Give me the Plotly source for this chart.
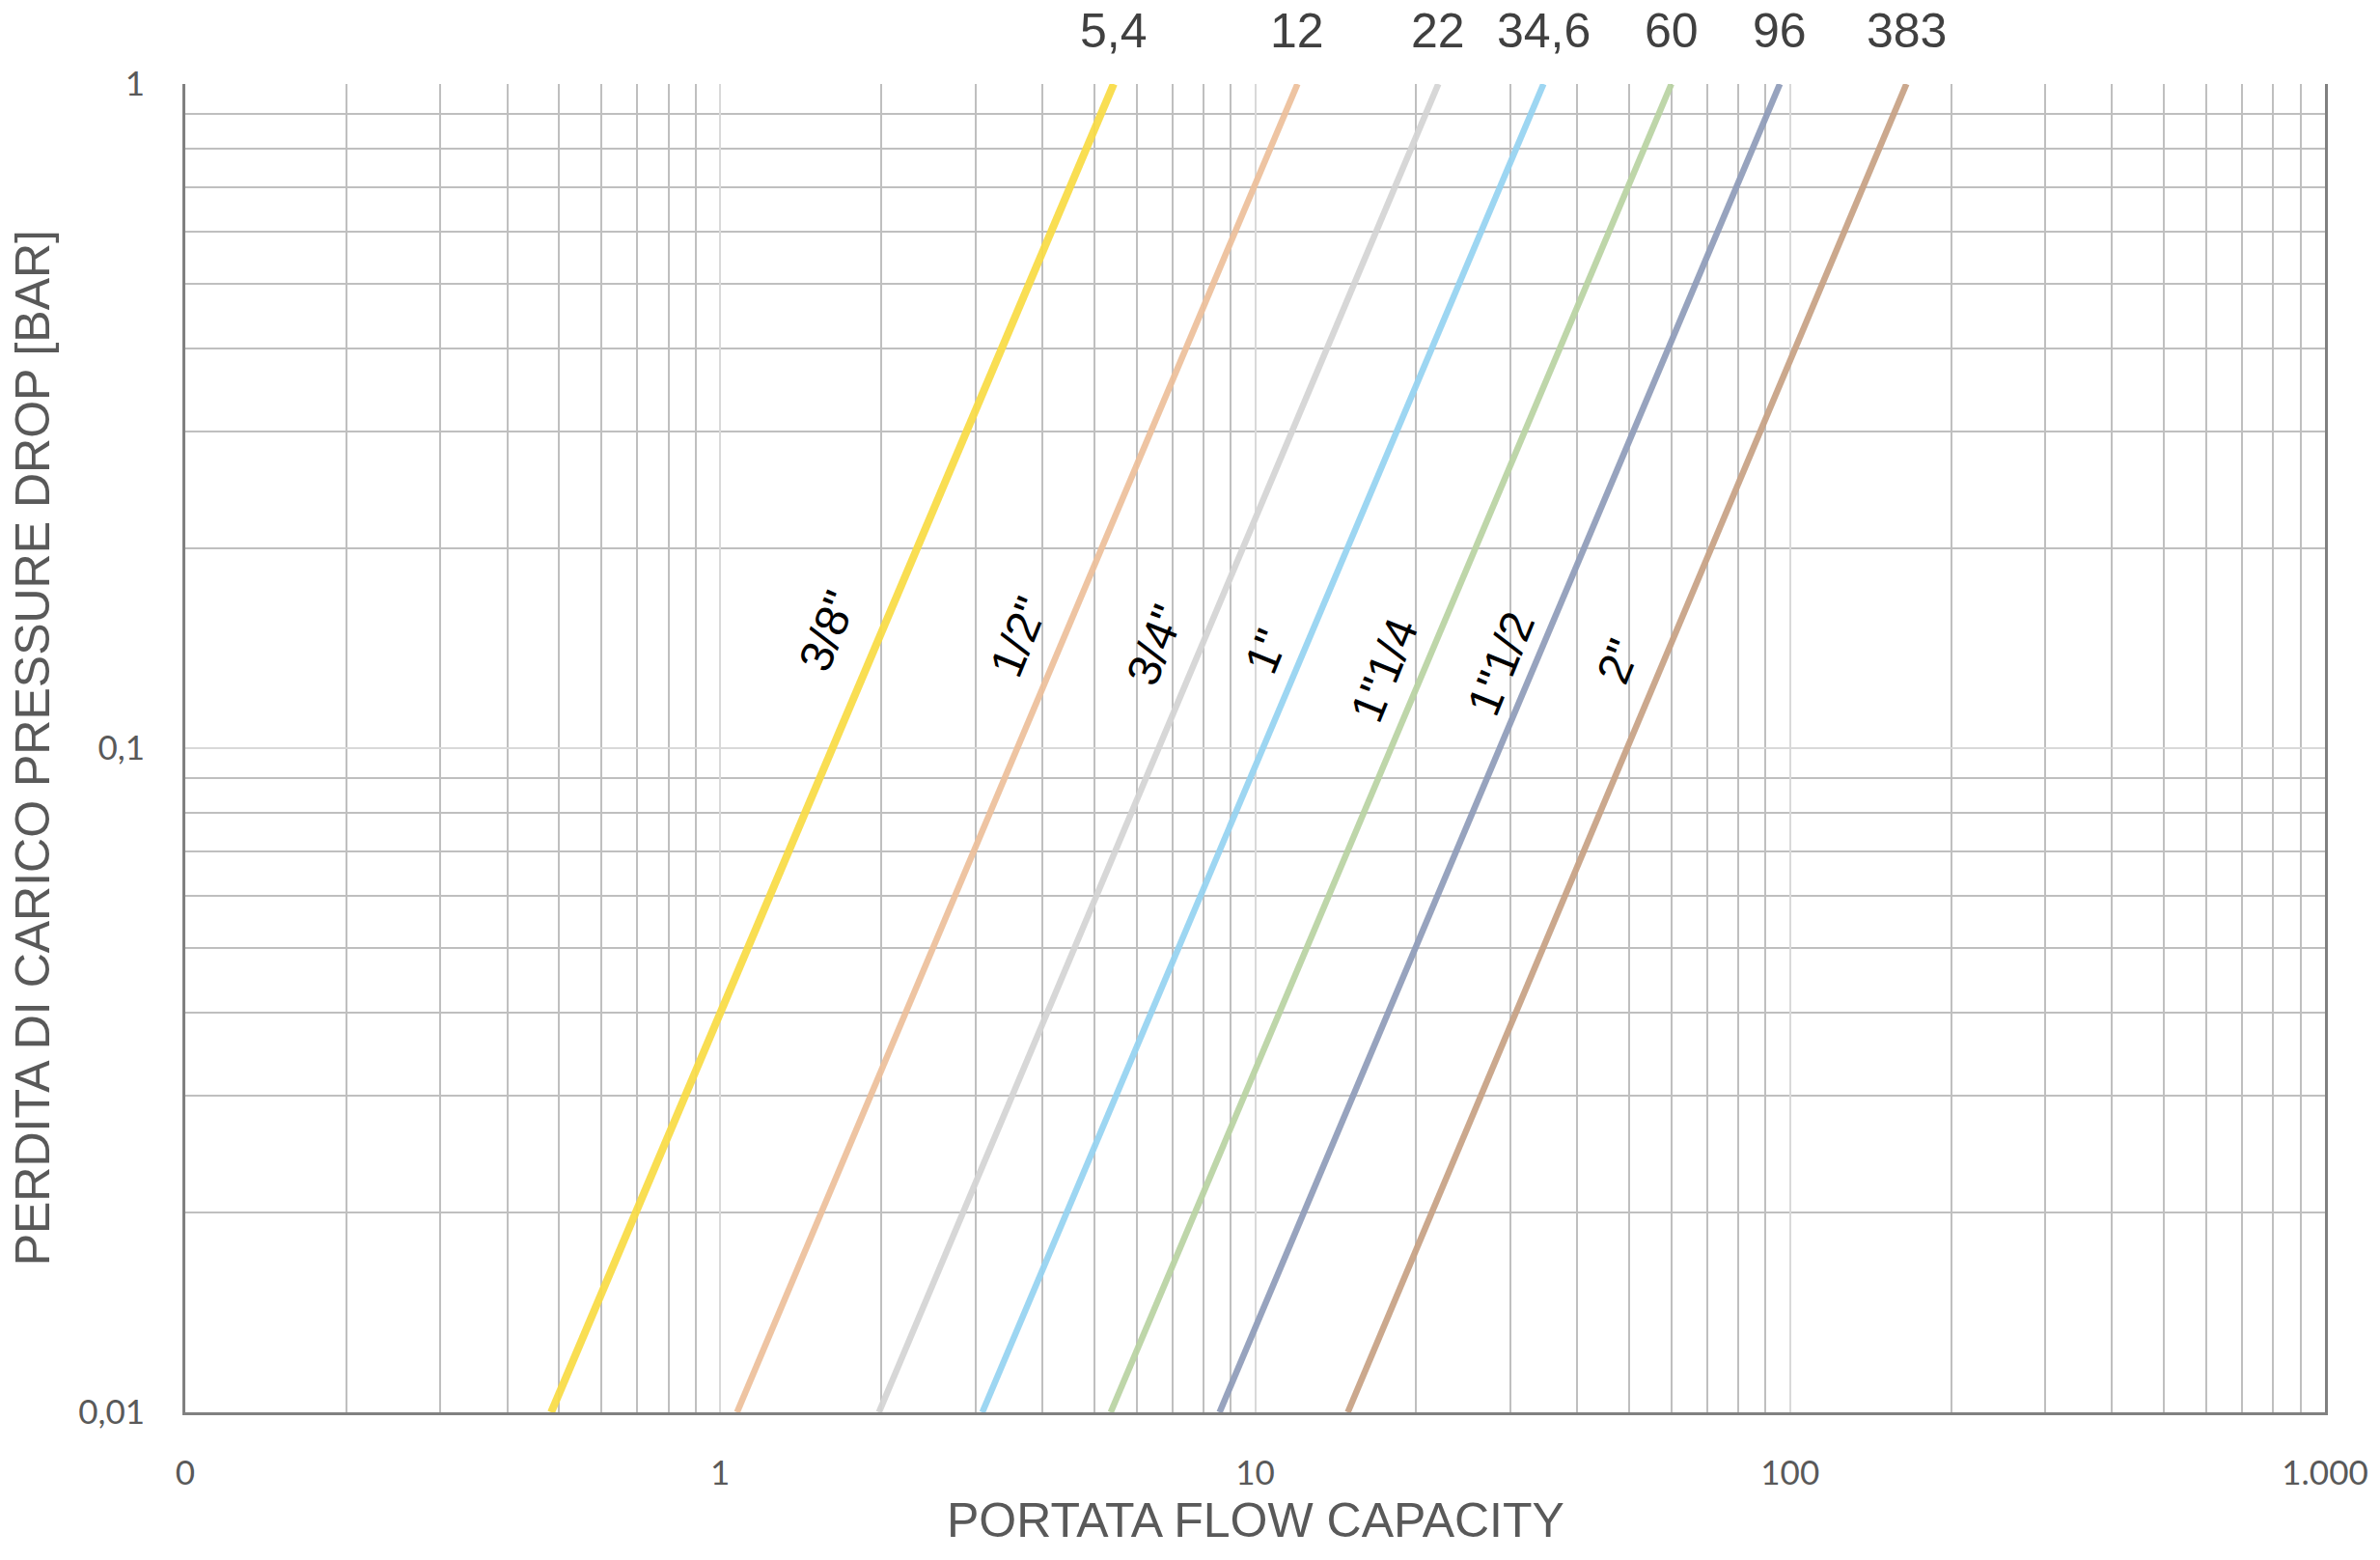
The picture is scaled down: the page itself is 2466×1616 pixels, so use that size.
import math
import plotly.graph_objects as go

# ---- data ----
sizes = ['3/8"', '1/2"', '3/4"', '1"', '1"1/4', '1"1/2', '2"']
kv_labels = ["5,4", "12", "22", "34,6", "60", "96", "383"]
dp_ends = [0.01, 1.0]                                   # pressure drop [bar]
q_at_low = [0.483, 1.075, 1.98, 3.09, 5.37, 8.58, 14.9]  # flow at 0.01 bar
q_at_high = [5.44, 12.0, 22.0, 34.6, 60.0, 95.7, 165.0]  # flow at 1 bar

x_tickvals = [0.1, 1, 10, 100, 1000]
x_ticktext = ["0", "1", "10", "100", "1.000"]
y_tickvals = [0.01, 0.1, 1]
y_ticktext = ["0,01", "0,1", "1"]

# ---- styling ----
colors = ["#F9DC44", "#EDC09B", "#D4D4D4", "#95D3F1", "#B9D3A2", "#8F9CB9", "#C7A184"]
widths = [8, 6.5, 6.5, 6.5, 6.5, 6.5, 6.5]
label_pos_q = [1.59, 3.62, 6.50, 10.5, 17.4, 28.8, 47.7]
label_pos_dp = [0.150, 0.147, 0.143, 0.140, 0.131, 0.134, 0.135]

fig = go.Figure()
for i, name in enumerate(sizes):
    fig.add_trace(go.Scatter(
        x=[q_at_low[i], q_at_high[i]], y=dp_ends, mode="lines", name=name,
        line=dict(color=colors[i], width=widths[i]), opacity=0.92,
        showlegend=False, hoverinfo="skip"))

minor_x = [m * 10 ** e for e in range(-1, 3) for m in range(2, 10)]
minor_y = [m * 10 ** e for e in range(-2, 0) for m in range(2, 10)]

tick_font = dict(family="Lato, Open Sans, sans-serif", size=35, color="#595959")

fig.update_xaxes(
    type="log", range=[-1, 3],
    tickmode="array", tickvals=x_tickvals, ticktext=x_ticktext,
    tickfont=tick_font, ticks="", ticklabelstandoff=30,
    showgrid=True, gridcolor="#D9D9D9", gridwidth=2,
    minor=dict(tickmode="array", tickvals=minor_x, showgrid=True,
               gridcolor="#BFBFBF", gridwidth=2, ticks=""),
    showline=True, linecolor="#808080", linewidth=3, zeroline=False)
fig.update_yaxes(
    type="log", range=[-2, 0],
    tickmode="array", tickvals=y_tickvals, ticktext=y_ticktext,
    tickfont=tick_font, ticks="", ticklabelstandoff=32,
    showgrid=True, gridcolor="#D9D9D9", gridwidth=2,
    minor=dict(tickmode="array", tickvals=minor_y, showgrid=True,
               gridcolor="#BFBFBF", gridwidth=2, ticks=""),
    showline=True, mirror=True, linecolor="#808080", linewidth=3, zeroline=False)

annotations = []
for i, name in enumerate(sizes):
    annotations.append(dict(
        x=math.log10(label_pos_q[i]), y=math.log10(label_pos_dp[i]),
        xref="x", yref="y", text=name, showarrow=False, textangle=-68,
        font=dict(family="Liberation Sans, Arial, sans-serif", size=48, color="#000000")))
    annotations.append(dict(
        x=math.log10(q_at_high[i]), y=1.0403, xref="x", yref="paper",
        text=kv_labels[i], showarrow=False, xanchor="center", yanchor="middle",
        font=dict(family="Liberation Sans, Arial, sans-serif", size=50, color="#404040")))

annotations.append(dict(
    x=0.5, y=-0.0814, xref="paper", yref="paper", text="PORTATA FLOW CAPACITY",
    showarrow=False, xanchor="center", yanchor="middle",
    font=dict(family="Liberation Sans, Arial, sans-serif", size=50, color="#595959")))
annotations.append(dict(
    x=-0.0711, y=0.5, xref="paper", yref="paper",
    text="PERDITA DI CARICO PRESSURE DROP [BAR]", textangle=-90,
    showarrow=False, xanchor="center", yanchor="middle",
    font=dict(family="Liberation Sans, Arial, sans-serif", size=50, color="#595959")))

fig.update_layout(
    width=2466, height=1616,
    margin=dict(l=192, r=52, t=87, b=153),
    plot_bgcolor="white", paper_bgcolor="white",
    annotations=annotations)

fig.write_html("out.html")
